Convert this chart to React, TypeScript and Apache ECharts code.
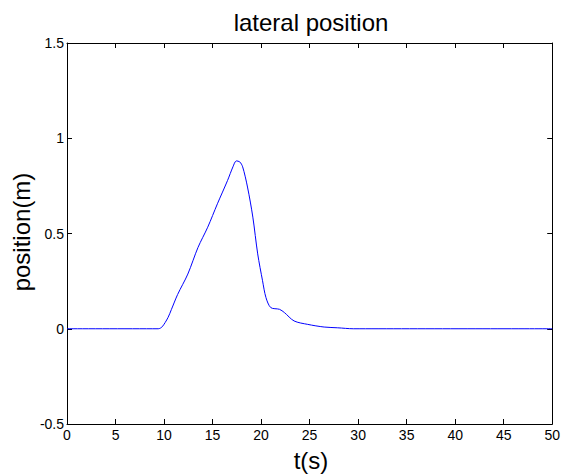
import React, { useEffect, useRef } from "react";
import * as echarts from "echarts";

const timeValues = [0, 9.4, 9.8, 10.4, 10.75, 11.4, 12.45, 13.5, 14.5, 15.5, 16.55, 17.1, 17.45, 17.8, 18.1, 18.6, 19.15, 19.65, 20.15, 20.5, 21.0, 21.9, 22.4, 23.4, 24.8, 26.5, 27.9, 29.5, 50];
const positionValues = [0, 0, 0.01, 0.058, 0.1, 0.18, 0.287, 0.427, 0.533, 0.656, 0.779, 0.85, 0.881, 0.876, 0.85, 0.744, 0.586, 0.393, 0.252, 0.164, 0.111, 0.102, 0.085, 0.041, 0.023, 0.009, 0.005, 0, 0];

const xTicks = [0, 50, 5];
const yTicks = [-0.5, 1.5, 0.5];

const titleText = "lateral position";
const xName = "t(s)";
const yName = "position(m)";

const FONT = "Liberation Sans, Arial, sans-serif";

export default function App() {
  const ref = useRef<HTMLDivElement>(null);
  useEffect(() => {
    const chart = echarts.init(ref.current!, undefined, { renderer: "svg" });
    const data = timeValues.map((t, i) => [t, positionValues[i]]);
    const axisLine = { show: true, onZero: false, lineStyle: { color: "#000", width: 1 } };
    const tick = { show: true, inside: true, length: 5, lineStyle: { color: "#000" } };
    const nameStyle = { fill: "#000", fontFamily: FONT, fontSize: 24, align: "center", verticalAlign: "middle" };
    chart.setOption({
      animation: false,
      backgroundColor: "#fff",
      graphic: [
        { type: "text", x: 311, y: 22, style: { ...nameStyle, text: titleText } },
        { type: "text", x: 311, y: 460, style: { ...nameStyle, text: xName } },
        { type: "text", x: 21, y: 232, rotation: Math.PI / 2, style: { ...nameStyle, text: yName } },
      ],
      grid: { left: 67, right: 8, top: 43, bottom: 50, containLabel: false },
      xAxis: [
        {
          type: "value",
          min: xTicks[0],
          max: xTicks[1],
          interval: xTicks[2],
          position: "bottom",
          axisLine,
          axisTick: tick,
          splitLine: { show: false },
          axisLabel: { color: "#000", fontFamily: FONT, fontSize: 14, margin: 4 },
        },
        {
          type: "value",
          min: xTicks[0],
          max: xTicks[1],
          interval: xTicks[2],
          position: "top",
          axisLine,
          axisTick: tick,
          splitLine: { show: false },
          axisLabel: { show: false },
        },
      ],
      yAxis: [
        {
          type: "value",
          min: yTicks[0],
          max: yTicks[1],
          interval: yTicks[2],
          position: "left",
          axisLine,
          axisTick: tick,
          splitLine: { show: false },
          axisLabel: { color: "#000", fontFamily: FONT, fontSize: 14, margin: 3 },
        },
        {
          type: "value",
          min: yTicks[0],
          max: yTicks[1],
          interval: yTicks[2],
          position: "right",
          axisLine,
          axisTick: tick,
          splitLine: { show: false },
          axisLabel: { show: false },
        },
      ],
      series: [
        {
          type: "line",
          data,
          showSymbol: false,
          symbol: "none",
          smooth: 0.3,
          lineStyle: { color: "#0000ff", width: 1 },
          xAxisIndex: 0,
          yAxisIndex: 0,
        },
      ],
    });
    return () => chart.dispose();
  }, []);
  return <div ref={ref} style={{ width: 563, height: 474, position: "absolute", left: 0, top: 0 }} />;
}
